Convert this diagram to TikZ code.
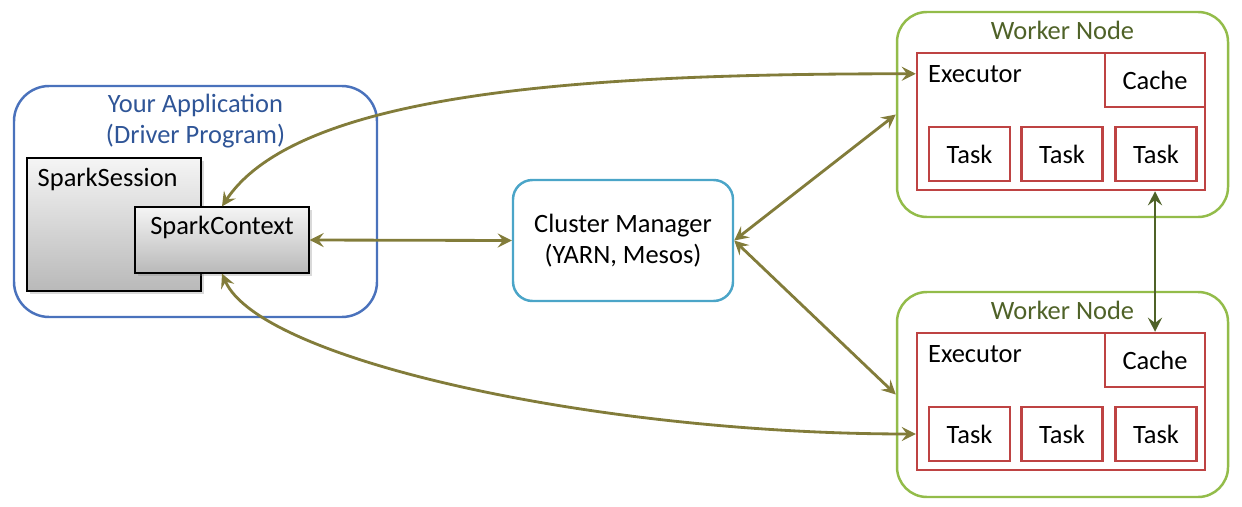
\documentclass[tikz,border=0pt]{standalone}
\usepackage{fontspec}
\setmainfont{Carlito}
\usetikzlibrary{arrows.meta}
\usetikzlibrary{shadows}

\definecolor{appblue}{HTML}{4A72BC}
\definecolor{apptext}{HTML}{2F5597}
\definecolor{cmblue}{HTML}{4BA5C8}
\definecolor{wgreen}{HTML}{93BC4A}
\definecolor{wtext}{HTML}{4F6228}
\definecolor{exred}{HTML}{BE4343}
\definecolor{olive}{HTML}{827C3A}
\definecolor{dgreen}{HTML}{4F6228}

\def\pxu{0.567pt}

\begin{document}
\begin{tikzpicture}[x=0.567pt, y=-0.567pt, font=\fontsize{15}{17.6}\selectfont,
        rbox/.style={draw, line width=1.4pt, inner sep=0pt},
        greybox/.style={draw=black, line width=0.7pt, inner sep=0pt, top color=gray!8, bottom color=gray!55,
            drop shadow={opacity=0.3, shadow xshift=1.5pt, shadow yshift=-1.5pt}},
        worker/.style={rbox, draw=wgreen, fill=white, rounded corners=17pt, minimum width=331*\pxu, minimum height=205*\pxu},
        exec/.style={rbox, draw=exred, minimum width=288*\pxu, minimum height=137*\pxu},
        cachebox/.style={rbox, draw=exred, minimum width=100*\pxu, minimum height=54*\pxu},
        taskbox/.style={rbox, draw=exred, line width=1.3pt, minimum width=81*\pxu, minimum height=54*\pxu},
        link/.style={draw=olive, line width=1.6pt, {Stealth[length=8pt,width=8pt,inset=3pt]}-{Stealth[length=8pt,width=8pt,inset=3pt]}},
        label/.style={inner sep=0pt}]
    \useasboundingbox (0,0) rectangle (1242,506);

    % driver side
    \node[rbox, draw=appblue, rounded corners=20pt, minimum width=363*\pxu, minimum height=231*\pxu] (app) at (195.5,201.5) {};
    \node[label, text=apptext, align=center] (apptxt) at ([yshift=-36*\pxu]app.north) {Your Application\\(Driver Program)};
    \node[greybox, minimum width=174*\pxu, minimum height=133*\pxu] (ses) at (114,224.5) {};
    \node[label, anchor=west] (sestxt) at ([shift={(11,22)}]ses.north west) {SparkSession};
    \node[greybox, minimum width=174*\pxu, minimum height=66*\pxu] (ctx) at (222,240) {};
    \node[label] (ctxtxt) at ([shift={(0,21)}]ctx.north) {SparkContext};

    % cluster manager
    \node[rbox, draw=cmblue, rounded corners=11pt, align=center, minimum width=220*\pxu, minimum height=121*\pxu] (cm) at (623,240.5) {Cluster Manager\\(YARN, Mesos)};

    % worker nodes
    \foreach \i/\dy in {1/0, 2/280} {
        \node[worker] (w\i) at (1062.5,114.5+\dy) {};
        \node[label, text=wtext] (w\i txt) at ([shift={(0,20)}]w\i.north) {Worker Node};
        \node[exec] (e\i) at (1061,121.5+\dy) {};
        \node[label, anchor=west] (e\i txt) at ([shift={(12,22)}]e\i.north west) {Executor};
        \node[cachebox] (c\i) at (1155,80+\dy) {Cache};
        \node[taskbox] (t\i1) at (969.5,154+\dy) {Task};
        \node[taskbox] (t\i2) at (1062,154+\dy) {Task};
        \node[taskbox] (t\i3) at (1156,154+\dy) {Task};
    }

    \coordinate (e1in) at (e1.west |- e1txt);
    \coordinate (e2in) at (e2.west |- t21);

    % connections
    \draw[link] (ctx.east) -- (cm.west);
    \draw[link] (cm.east) -- (w1.west);
    \draw[link] (cm.east) -- (w2.west);
    \draw[link] (ctx.north) .. controls +(78,-117) and +(-317,0) .. (e1in);
    \draw[link] (ctx.south) .. controls +(38,87) and +(-317,0) .. (e2in);
    \draw[link, draw=dgreen] (e1.south -| c1) -- (e2.north -| c2);
\end{tikzpicture}
\end{document}
